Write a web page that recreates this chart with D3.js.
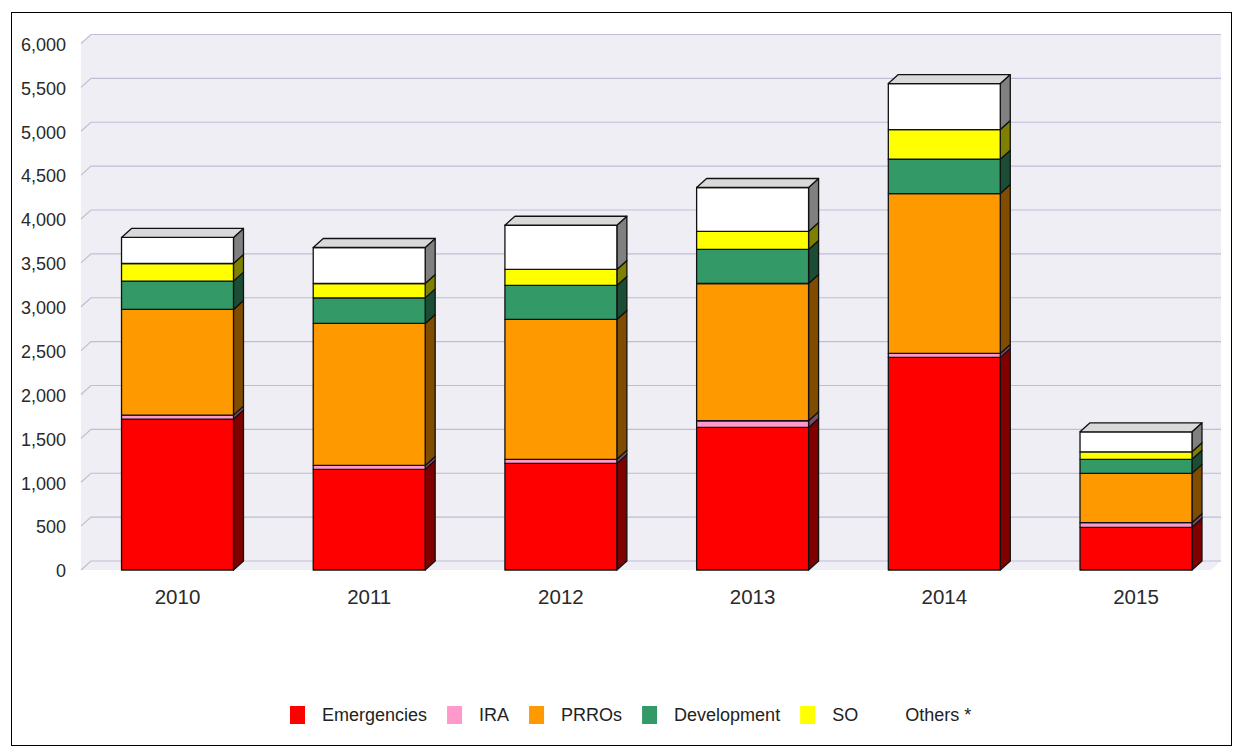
<!DOCTYPE html>
<html><head><meta charset="utf-8">
<script src="https://cdn.jsdelivr.net/npm/d3@7"></script>
<style>html,body{margin:0;padding:0;background:#fff;}svg{display:block;font-family:"Liberation Sans",Arial,sans-serif;}</style>
</head><body>
<svg id="chart" width="1236" height="748"></svg>
<script>
const years = ["2010","2011","2012","2013","2014","2015"];
const seriesNames = ["Emergencies","IRA","PRROs","Development","SO","Others *"];
const emergencies = [1720, 1147, 1215, 1625, 2423, 486];
const ira         = [45, 45, 46, 76, 45, 53];
const prros       = [1204, 1618, 1594, 1564, 1822, 562];
const development = [323, 291, 388, 388, 391, 160];
const so          = [201, 164, 182, 205, 338, 86];
const others      = [297, 410, 504, 501, 524, 228];
const yTicks = [0,500,1000,1500,2000,2500,3000,3500,4000,4500,5000,5500,6000];

const colors = ["#ff0000","#ff99cc","#ff9900","#339966","#ffff00","#ffffff"];
const sideColors = ["#800000","#804c66","#804c00","#1a4d33","#808000","#808080"];

const svg = d3.select("#chart");
const dx = 10, dy = 9;
const yF = d3.scaleLinear().domain([0,6000]).range([570, 43.5]);
const yB = v => yF(v) - dy;
const x = d3.scaleBand().domain(years).range([81.65, 1231.85]).paddingInner(0.416).paddingOuter(0.208);
const wallLeft = 81, wallRight = 1221;

// frame
svg.append("rect").attr("x",11.5).attr("y",12.5).attr("width",1220).attr("height",733)
  .attr("fill","none").attr("stroke","#000").attr("stroke-width",1);

// walls
const bg = "#eeeef4", grid = "#bebed6";
svg.append("polygon").attr("fill",bg).attr("points",[
  [wallLeft, yF(6000)],[wallLeft+dx, yB(6000)],[wallRight, yB(6000)],[wallRight, yB(0)],
  [wallRight-dx, yF(0)],[wallLeft, yF(0)]].map(p=>p.join(",")).join(" "));

// gridlines
const g = svg.append("g");
yTicks.forEach(t=>{
  g.append("path").attr("fill","none").attr("stroke",grid).attr("stroke-width",1.2)
   .attr("d",`M${wallLeft},${yF(t)}L${wallLeft+dx},${yB(t)}L${wallRight},${yB(t)}`);
});

// y labels
const fmt = d3.format(",");
svg.append("g").selectAll("text").data(yTicks).join("text")
  .attr("x",66).attr("y",d=>yF(d)+1).attr("dy","0.35em").attr("text-anchor","end")
  .attr("font-size",18).attr("fill","#2a2a2a").text(d=>fmt(d));

// x labels
svg.append("g").selectAll("text").data(years).join("text")
  .attr("x",d=>x(d)+x.bandwidth()/2).attr("y",597).attr("dy","0.35em").attr("text-anchor","middle")
  .attr("font-size",20.5).attr("fill","#2a2a2a").text(d=>d);

// stacked bars
const rows = years.map((yr,i)=>({year:yr, s0:emergencies[i], s1:ira[i], s2:prros[i], s3:development[i], s4:so[i], s5:others[i]}));
const keys = ["s0","s1","s2","s3","s4","s5"];
const stack = d3.stack().keys(keys)(rows);
const bars = svg.append("g").attr("stroke","#111").attr("stroke-width",1.3).attr("stroke-linejoin","round");
years.forEach((yr,i)=>{
  const x0 = x(yr), x1 = x(yr)+x.bandwidth();
  stack.forEach((layer,k)=>{
    const v0 = layer[i][0], v1 = layer[i][1];
    const yb = yF(v0), yt = yF(v1);
    bars.append("polygon").attr("fill",sideColors[k]).attr("points",
      [[x1,yb],[x1,yt],[x1+dx,yt-dy],[x1+dx,yb-dy]].map(p=>p.join(",")).join(" "));
    bars.append("rect").attr("x",x0).attr("y",yt).attr("width",x1-x0).attr("height",yb-yt).attr("fill",colors[k]);
    if(k===stack.length-1){
      bars.append("polygon").attr("fill","#d9d9d9").attr("points",
        [[x0,yt],[x0+dx,yt-dy],[x1+dx,yt-dy],[x1,yt]].map(p=>p.join(",")).join(" "));
    }
  });
});

// legend
const leg = svg.append("g").attr("font-size",18).attr("fill","#222");
let lx = 290; const ly = 715;
seriesNames.forEach((n,k)=>{
  leg.append("rect").attr("x",lx).attr("y",ly-9).attr("width",15).attr("height",18).attr("fill",colors[k]);
  const t = leg.append("text").attr("x",lx+32).attr("y",ly).attr("dy","0.35em").text(n);
  lx = lx + 32 + t.node().getComputedTextLength() + (k===4 ? 15 : 20);
});
</script>
</body></html>
